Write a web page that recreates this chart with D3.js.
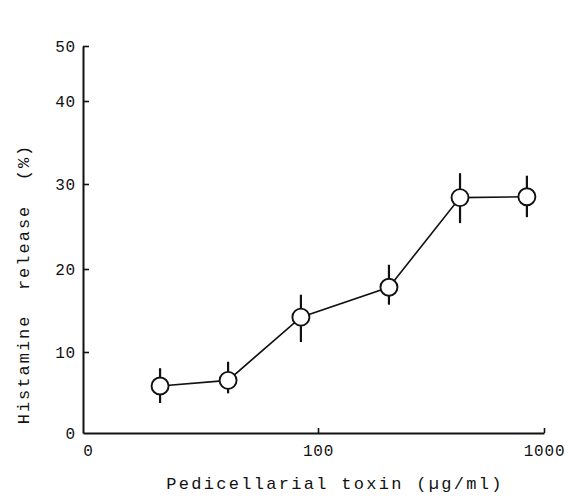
<!DOCTYPE html>
<html>
<head>
<meta charset="utf-8">
<script src="https://cdn.jsdelivr.net/npm/d3@7"></script>
<style>
  html, body { margin: 0; padding: 0; background: #fff; }
  svg { display: block; }
  text { font-family: "Liberation Mono", "DejaVu Sans Mono", monospace; fill: #111; }
</style>
</head>
<body>
<svg id="chart" width="581" height="497"></svg>
<script>
// ---- data ----
const doses      = [20, 40, 84, 206, 425, 840];      // µg/ml
const release    = [5.8, 6.5, 14.2, 17.8, 28.4, 28.5]; // %
const errLow     = [3.7, 4.9, 11.2, 15.7, 25.4, 26.1];
const errHigh    = [8.0, 8.8, 16.9, 20.5, 31.3, 31.0];
const xTickValues = [10, 100, 1000];
const xTickLabels = ["0", "100", "1000"];
const yTickValues = [0, 10, 20, 30, 40, 50];
const yTickLabels = ["0", "10", "20", "30", "40", "50"];

const svg = d3.select("#chart");

const x = d3.scaleLog().domain([9.12, 1000]).range([83, 544]);
// printed axis has slightly uneven spacing; polylinear scale through tick positions
const y = d3.scaleLinear().domain(yTickValues).range([433, 352, 269, 184, 101, 46]);

// y axis
const yAxis = svg.append("g")
  .attr("transform", "translate(83,0)")
  .call(d3.axisLeft(y).tickValues(yTickValues)
    .tickFormat((d, i) => yTickLabels[i]).tickSize(-6).tickSizeOuter(0).tickPadding(7));
yAxis.select(".domain").attr("stroke", "#111").attr("stroke-width", 2);
yAxis.selectAll(".tick line").attr("stroke", "#111").attr("stroke-width", 1.6);
yAxis.selectAll(".tick").filter(d => d === 0).select("line").remove();
yAxis.selectAll("text").attr("font-size", 16).attr("letter-spacing", 0.8)
  .attr("font-family", "Liberation Mono").attr("fill", "#111");

// x axis
const xAxis = svg.append("g")
  .attr("transform", "translate(0,433)")
  .call(d3.axisBottom(x).tickValues(xTickValues)
    .tickFormat((d, i) => xTickLabels[i]).tickSize(-5).tickSizeOuter(0).tickPadding(12));
xAxis.select(".domain").attr("stroke", "#111").attr("stroke-width", 2);
xAxis.selectAll(".tick line").attr("stroke", "#111").attr("stroke-width", 1.6);
xAxis.selectAll(".tick").filter(d => d === 10).select("line").remove();
xAxis.selectAll(".tick").filter(d => d === 10).select("text").attr("dx", -4);
xAxis.selectAll("text").attr("font-size", 16).attr("letter-spacing", 0.8)
  .attr("font-family", "Liberation Mono").attr("fill", "#111");

// axis titles
svg.append("text")
  .attr("x", 335).attr("y", 489)
  .attr("text-anchor", "middle")
  .attr("font-size", 17).attr("letter-spacing", 2.3)
  .text("Pedicellarial toxin (\u00b5g/ml)");

svg.append("text")
  .attr("transform", "translate(29,284) rotate(-90)")
  .attr("text-anchor", "middle")
  .attr("font-size", 17).attr("letter-spacing", 2.0)
  .text("Histamine\u00a0\u00a0release\u00a0\u00a0(%)");

// error bars
const pts = doses.map((d, i) => ({ d, v: release[i], lo: errLow[i], hi: errHigh[i] }));
svg.append("g").selectAll("line").data(pts).join("line")
  .attr("x1", p => x(p.d)).attr("x2", p => x(p.d))
  .attr("y1", p => y(p.lo)).attr("y2", p => y(p.hi))
  .attr("stroke", "#111").attr("stroke-width", 2.2);

// connecting line
svg.append("path")
  .datum(pts)
  .attr("fill", "none").attr("stroke", "#111").attr("stroke-width", 1.6)
  .attr("d", d3.line().x(p => x(p.d)).y(p => y(p.v)));

// markers
svg.append("g").selectAll("circle").data(pts).join("circle")
  .attr("cx", p => x(p.d)).attr("cy", p => y(p.v)).attr("r", 8.5)
  .attr("fill", "#fff").attr("stroke", "#111").attr("stroke-width", 1.9);
</script>
</body>
</html>
